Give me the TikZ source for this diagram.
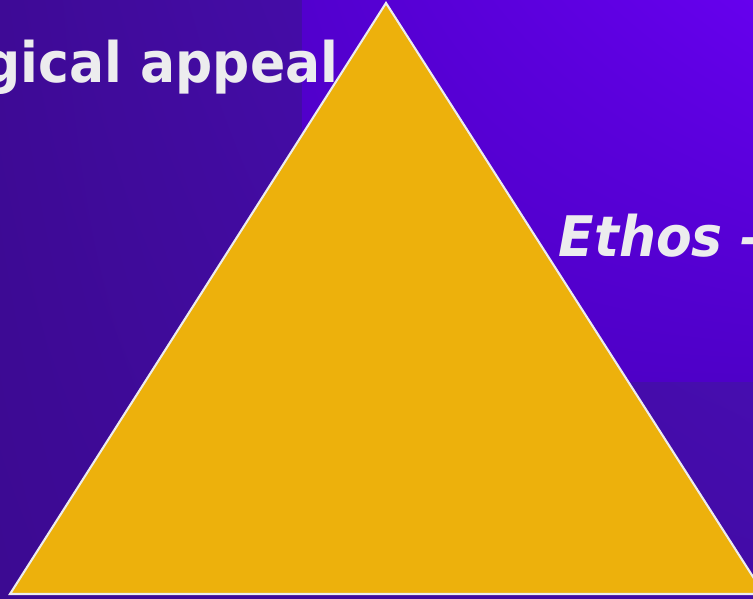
\documentclass[tikz,border=0pt]{standalone}
\usepackage{fontspec}
\setmainfont{DejaVu Sans}
\newfontfamily\slidefont{DejaVu Sans}[FakeStretch=0.93]
\usetikzlibrary{calc, shadings}

\definecolor{backUL}{RGB}{62,10,150}
\definecolor{backUR}{RGB}{78,16,192}
\definecolor{backLL}{RGB}{60,10,146}
\definecolor{backLR}{RGB}{66,11,166}
\definecolor{glowUL}{RGB}{82,0,206}
\definecolor{glowUR}{RGB}{102,0,238}
\definecolor{glowLL}{RGB}{78,0,196}
\definecolor{glowLR}{RGB}{78,0,200}
\definecolor{pyramidgold}{RGB}{237,177,12}
\definecolor{slidewhite}{RGB}{236,236,238}

\begin{document}
\begin{tikzpicture}[
  x=0.01cm, y=-0.01cm,
  slidetext/.style={text=slidewhite, inner sep=0pt,
    font=\slidefont\bfseries\fontsize{15.9}{19}\selectfont},
  pyramid/.style={fill=pyramidgold, draw=slidewhite, line width=0.6pt, line join=miter},
]
\useasboundingbox (0,0) rectangle (753,599);
\clip (0,0) rectangle (753,599);

%% ============ BACKGROUND ============
\shade[upper left=backUL, upper right=backUR, lower left=backLL, lower right=backLR]
  (0,0) rectangle (753,599);
% brighter panel, top right
\shade[upper left=glowUL, upper right=glowUR, lower left=glowLL, lower right=glowLR]
  (302,0) rectangle (753,381);

%% ============ TRIANGLE ============
\coordinate (apex)  at (386,3);
\coordinate (baseL) at (10,594);
\coordinate (baseR) at (764,594);
\draw[pyramid] (apex) -- (baseL) -- (baseR) -- cycle;

%% ============ LABELS ============
\node[slidetext, anchor=base east] (logos) at (339,82) {gical appeal};
\node[slidetext, anchor=base west] (ethos) at (558,256) {\itshape Ethos –};

\end{tikzpicture}
\end{document}
